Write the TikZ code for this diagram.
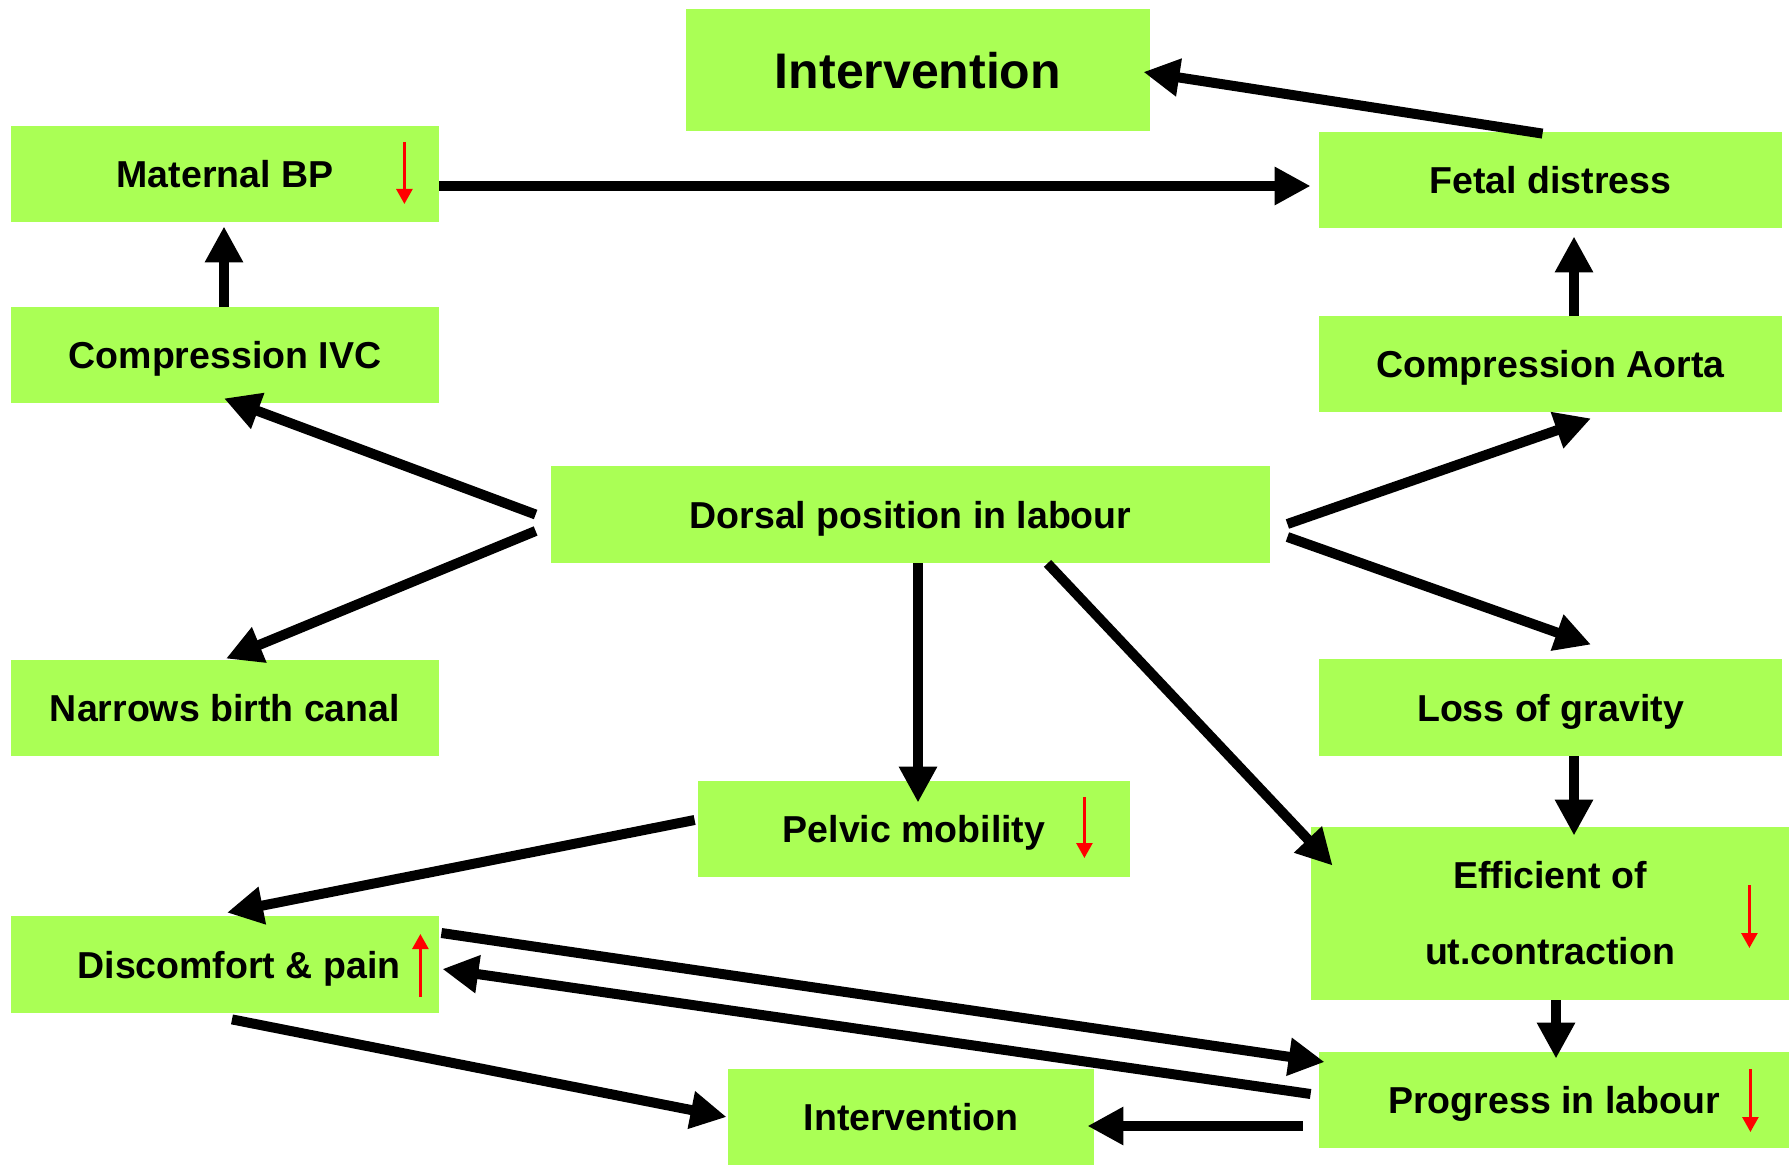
\documentclass[tikz,border=0pt]{standalone}
\usepackage{fontspec}
\setmainfont{Liberation Sans}
\usetikzlibrary{arrows.meta,calc}
\definecolor{boxgreen}{RGB}{170,255,85}
\begin{document}
\begin{tikzpicture}[x=0.5pt,y=-0.5pt,
  box/.style={fill=boxgreen, draw=none, inner sep=0pt, align=center, text depth=0pt,
    font=\fontsize{18.75pt}{22pt}\selectfont\bfseries},
  narrowbox/.style={box, minimum width=214pt, minimum height=48pt},
  widebox/.style={box, minimum width=231.5pt, minimum height=48pt},
  arr/.style={line width=5pt, -{Triangle[width=18pt,length=18pt]}},
  redarr/.style={red, line width=1.3pt, -{Triangle[width=8pt,length=7.5pt]}}]
\useasboundingbox (0,0) rectangle (1791,1165);

% boxes
\node[box, minimum width=232pt, minimum height=61pt,
      font=\fontsize{25pt}{30pt}\selectfont\bfseries] (intTop) at (918,70) {Intervention};
\node[narrowbox] (mbp) at (225,174) {Maternal BP};
\node[widebox] (fetal) at (1550.5,180) {Fetal distress};
\node[narrowbox] (ivc) at (225,355) {Compression IVC};
\node[widebox] (aorta) at (1550.5,364) {Compression Aorta};
\node[box, minimum width=359.5pt, minimum height=48.5pt] (dorsal) at (910.5,514.5) {Dorsal position in labour};
\node[narrowbox] (narrows) at (225,708) {Narrows birth canal};
\node[widebox, minimum height=48.5pt] (gravity) at (1550.5,707.5) {Loss of gravity};
\node[box, minimum width=216pt, minimum height=48pt] (pelvic) at (914,829) {Pelvic mobility};
\node[box, minimum width=239pt, minimum height=86.5pt, text depth=,
      font=\fontsize{18.75pt}{38pt}\selectfont\bfseries] (efficient) at (1550,913.5) {Efficient of\\ut.contraction};
\node[narrowbox, minimum height=48.5pt] (discomfort) at (225,964.5) {\hspace*{14pt}Discomfort \& pain};
\node[box, minimum width=183pt, minimum height=48pt] (intBot) at (911,1117) {Intervention};
\node[box, minimum width=235pt, minimum height=48pt] (progress) at (1554,1100) {Progress in labour};

% red indicator arrows
\draw[redarr] ($(mbp.east)+(-35,-32)$) -- ($(mbp.east)+(-35,30)$);
\draw[redarr] ($(pelvic.east)+(-46,-32)$) -- ($(pelvic.east)+(-46,29)$);
\draw[redarr] ($(efficient.east)+(-40,-28.5)$) -- ($(efficient.east)+(-40,34.5)$);
\draw[redarr] ($(progress.east)+(-39,-31)$) -- ($(progress.east)+(-39,32)$);
\draw[redarr] ($(discomfort.east)+(-19,32.5)$) -- ($(discomfort.east)+(-19,-30.5)$);

% connectors
\draw[arr] ($(fetal.north)+(-8,2)$) -- ($(intTop.east)+(-7,2)$);
\draw[arr] ($(mbp.east)+(0,12)$) -- ($(fetal.west)+(-8,6)$);
\draw[arr] ($(ivc.north)+(-1,0)$) -- ($(mbp.south)+(-1,4)$);
\draw[arr] ($(aorta.north)+(23.5,0)$) -- ($(fetal.south)+(23.5,8)$);
\draw[arr] ($(dorsal.west)+(-15,0)$) -- ($(ivc.south)+(-1,-5)$);
\draw[arr] ($(dorsal.west)+(-15,16.5)$) -- ($(narrows.north)+(1,-1)$);
\draw[arr] ($(dorsal.east)+(17,9.5)$) -- ($(aorta.south)+(40.5,6)$);
\draw[arr] ($(dorsal.east)+(17,22.5)$) -- ($(gravity.north)+(40.5,-14)$);
\draw[arr] ($(dorsal.south)+(7.5,0)$) -- ($(pelvic.north)+(4,22)$);
\draw[arr] ($(dorsal.south)+(137,0)$) -- ($(efficient.north west)+(22,39)$);
\draw[arr] ($(gravity.south)+(23.5,0)$) -- ($(efficient.north)+(24,9)$);
\draw[arr] ($(efficient.south)+(6,0)$) -- ($(progress.north)+(2,7)$);
\draw[arr] ($(pelvic.west)+(-3,-9)$) -- ($(discomfort.north)+(2,-3)$);
\draw[arr] ($(discomfort.east)+(2,-31.5)$) -- ($(progress.west)+(6,-38)$);
\draw[arr] ($(progress.west)+(-8,-6)$) -- ($(discomfort.east)+(3,4.5)$);
\draw[arr] ($(discomfort.south)+(7,6)$) -- ($(intBot.west)+(-1,0)$);
\draw[arr] ($(progress.west)+(-16,26)$) -- ($(intBot.east)+(-7,9)$);
\end{tikzpicture}
\end{document}
